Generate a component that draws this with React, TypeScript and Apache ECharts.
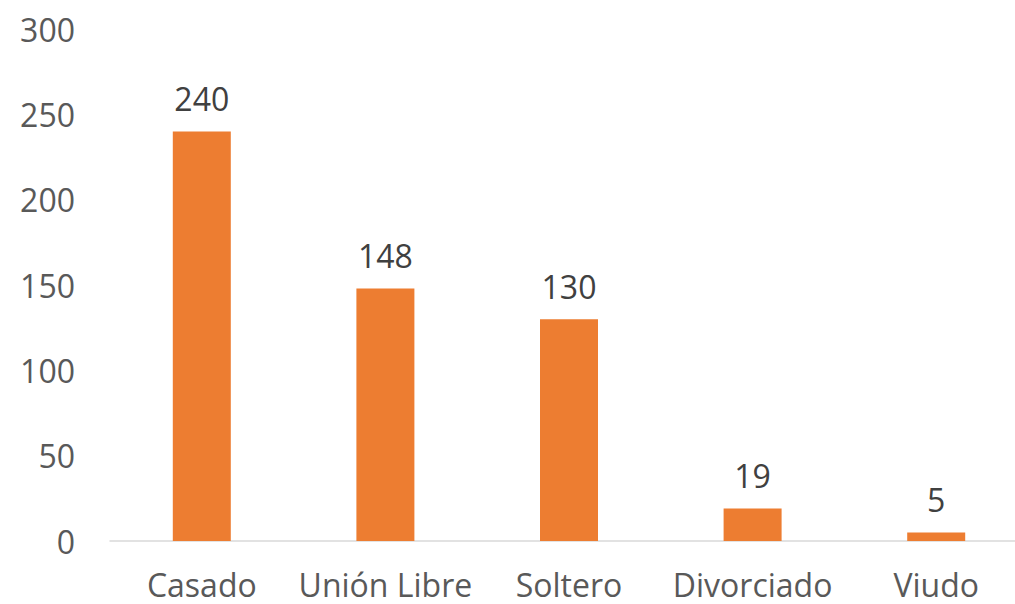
import React, { useEffect, useRef } from "react";
import * as echarts from "echarts";

const categories = ["Casado", "Unión Libre", "Soltero", "Divorciado", "Viudo"];
const values = [240, 148, 130, 19, 5];
const yTicks = [0, 50, 100, 150, 200, 250, 300];

export default function App() {
  const ref = useRef<HTMLDivElement>(null);
  useEffect(() => {
    const chart = echarts.init(ref.current!, null, { renderer: "svg" });
    const font = "'Open Sans', sans-serif";
    chart.setOption({
      animation: false,
      grid: { left: 110, top: 29, width: 918, height: 512, outerBoundsMode: "none", containLabel: false },
      xAxis: {
        type: "category",
        data: categories,
        axisLine: { lineStyle: { color: "#d9d9d9", width: 1.5 } },
        axisTick: { show: false },
        axisLabel: { color: "#595959", fontSize: 32, fontFamily: font, margin: 27, interval: 0 },
      },
      yAxis: {
        type: "value",
        min: yTicks[0],
        max: yTicks[yTicks.length - 1],
        interval: 50,
        axisLine: { show: false },
        axisTick: { show: false },
        splitLine: { show: false },
        axisLabel: { color: "#595959", fontSize: 32, fontFamily: font, margin: 35 },
      },
      series: [
        {
          type: "bar",
          data: values,
          barWidth: 58,
          itemStyle: { color: "#ed7d31" },
          label: {
            show: true,
            position: "top",
            distance: 17,
            color: "#404040",
            fontSize: 32,
            fontFamily: font,
          },
        },
      ],
    });
    return () => chart.dispose();
  }, []);
  return (
    <div
      ref={ref}
      style={{ position: "fixed", left: 0, top: 0, width: 1015, height: 604, background: "#fff" }}
    />
  );
}
